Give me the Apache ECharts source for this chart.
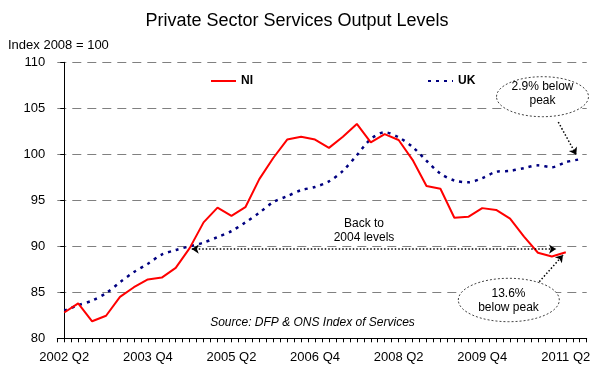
<!DOCTYPE html>
<html>
<head>
<meta charset="utf-8">
<script src="https://cdn.jsdelivr.net/npm/echarts@6/dist/echarts.min.js"></script>
<style>
html,body{margin:0;padding:0;background:#fff;}
#chart{width:594px;height:367px;}
</style>
</head>
<body>
<div id="chart"></div>
<script>
const quarters = [
  '2002 Q2','2002 Q3','2002 Q4',
  '2003 Q1','2003 Q2','2003 Q3','2003 Q4',
  '2004 Q1','2004 Q2','2004 Q3','2004 Q4',
  '2005 Q1','2005 Q2','2005 Q3','2005 Q4',
  '2006 Q1','2006 Q2','2006 Q3','2006 Q4',
  '2007 Q1','2007 Q2','2007 Q3','2007 Q4',
  '2008 Q1','2008 Q2','2008 Q3','2008 Q4',
  '2009 Q1','2009 Q2','2009 Q3','2009 Q4',
  '2010 Q1','2010 Q2','2010 Q3','2010 Q4',
  '2011 Q1','2011 Q2','2011 Q3'
];
const labelEvery = 6;
const niValues = [
  82.8, 83.8, 81.85, 82.45, 84.5, 85.55, 86.4, 86.6, 87.65, 89.8,
  92.6, 94.2, 93.3, 94.25, 97.3, 99.6, 101.6, 101.9, 101.6, 100.7,
  101.9, 103.3, 101.3, 102.2, 101.55, 99.4, 96.55, 96.25, 93.1, 93.2,
  94.15, 93.95, 93.0, 91.05, 89.3, 88.9, 89.35
];
const ukValues = [
  83.0, 83.6, 84.1, 84.9, 86.1, 87.2, 88.1, 89.1, 89.6, 90.0,
  90.4, 91.0, 91.65, 92.6, 93.65, 94.8, 95.45, 96.1, 96.45, 97.05,
  98.2, 99.9, 101.65, 102.4, 101.85, 100.8, 99.3, 97.9, 97.15, 96.95,
  97.4, 98.1, 98.2, 98.5, 98.8, 98.6, 99.15, 99.45
];
const yTicks = [80, 85, 90, 95, 100, 105, 110];

// annotation arrows in data coordinates [quarterIndex, value]
const arrowBack2004 = [[9.15, 89.7], [35.3, 89.7]];
const arrowUK = [[35.46, 103.5], [36.75, 99.95]];
const arrowNI = [[34.1, 86.15], [35.8, 89.05]];

const chart = echarts.init(document.getElementById('chart'), null, {renderer: 'canvas'});
const FONT = 'Arial, "Liberation Sans", sans-serif';

const option = {
  animation: false,
  backgroundColor: '#ffffff',
  title: {
    text: 'Private Sector Services Output Levels',
    left: 'center',
    top: 7,
    textStyle: {fontFamily: FONT, fontSize: 18, fontWeight: 'normal', color: '#000'}
  },
  legend: {
    left: 205,
    top: 70,
    itemWidth: 25,
    itemHeight: 12,
    itemGap: 174,
    itemStyle: {opacity: 0},
    textStyle: {fontFamily: FONT, fontSize: 12, fontWeight: 'bold', color: '#000'},
    data: ['NI', 'UK']
  },
  grid: {left: 57.3, right: 7.3, top: 62.3, bottom: 28.7, containLabel: false},
  xAxis: {
    type: 'value',
    min: -0.5,
    max: quarters.length - 0.5,
    interval: 0.5,
    axisLine: {show: true, lineStyle: {color: '#000', width: 1}},
    axisTick: {show: true, length: 4, lineStyle: {color: '#000', width: 1}},
    splitLine: {show: false},
    axisLabel: {
      margin: 13,
      fontFamily: FONT, fontSize: 13, color: '#000',
      showMinLabel: true, showMaxLabel: true,
      formatter: function (v) {
        const i = Math.round(v);
        if (Math.abs(v - i) < 1e-6 && i >= 0 && i < quarters.length && i % labelEvery === 0) return quarters[i];
        return '';
      }
    }
  },
  yAxis: {
    type: 'value',
    min: yTicks[0],
    max: yTicks[yTicks.length - 1],
    interval: yTicks[1] - yTicks[0],
    axisLine: {show: true, lineStyle: {color: '#000', width: 1}},
    axisTick: {show: true, length: 4, lineStyle: {color: '#000', width: 1}},
    splitLine: {show: true, lineStyle: {color: '#808080', width: 1.2, type: [9, 6]}},
    axisLabel: {margin: 12, fontFamily: FONT, fontSize: 13, color: '#000'}
  },
  series: [
    {
      name: 'NI',
      type: 'line',
      data: niValues.map((v, i) => [i, v]),
      symbol: 'none',
      lineStyle: {color: '#ff0000', width: 2},
      itemStyle: {color: '#ff0000'},
      z: 3,
      markLine: {
        silent: true,
        animation: false,
        symbolSize: 7,
        label: {show: false},
        lineStyle: {color: '#000', width: 1.5, type: [1.5, 2]},
        data: [
          [{coord: arrowBack2004[0], symbol: 'arrow'}, {coord: arrowBack2004[1], symbol: 'arrow'}],
          [{coord: arrowUK[0], symbol: 'none'}, {coord: arrowUK[1], symbol: 'arrow'}],
          [{coord: arrowNI[0], symbol: 'none'}, {coord: arrowNI[1], symbol: 'arrow'}]
        ]
      }
    },
    {
      name: 'UK',
      type: 'line',
      data: ukValues.map((v, i) => [i, v]),
      symbol: 'none',
      smooth: 0.3,
      lineStyle: {color: '#000080', width: 2.5, type: [3, 5]},
      itemStyle: {color: '#000080'},
      z: 2
    }
  ],
  graphic: [
    {type: 'text', left: 8, top: 39, style: {text: 'Index 2008 = 100', font: '13px ' + FONT, fill: '#000'}},
    {type: 'text', x: 364, y: 231, z: 10, style: {text: 'Back to\n2004 levels', font: '12px ' + FONT, fill: '#000', textAlign: 'center', textVerticalAlign: 'middle', lineHeight: 14}},
    {type: 'text', x: 312.5, y: 322.5, z: 10, style: {text: 'Source: DFP & ONS Index of Services', font: 'italic 12px ' + FONT, fill: '#000', textAlign: 'center', textVerticalAlign: 'middle'}},
    {type: 'ellipse', z: 10, shape: {cx: 542.5, cy: 96.7, rx: 46, ry: 20}, style: {fill: '#fff', stroke: '#444', lineWidth: 1, lineDash: [2, 2]}},
    {type: 'text', x: 542.5, y: 93.5, z: 11, style: {text: '2.9% below\npeak', font: '12px ' + FONT, fill: '#000', textAlign: 'center', textVerticalAlign: 'middle', lineHeight: 14}},
    {type: 'ellipse', z: 10, shape: {cx: 508.8, cy: 300, rx: 50.5, ry: 21.7}, style: {fill: '#fff', stroke: '#444', lineWidth: 1, lineDash: [2, 2]}},
    {type: 'text', x: 508.5, y: 301, z: 11, style: {text: '13.6%\nbelow peak', font: '12px ' + FONT, fill: '#000', textAlign: 'center', textVerticalAlign: 'middle', lineHeight: 14}}
  ]
};
chart.setOption(option);
</script>
</body>
</html>
